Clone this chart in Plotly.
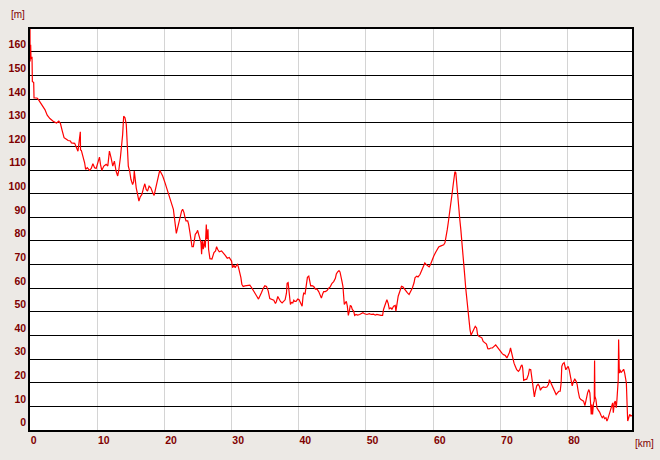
import plotly.graph_objects as go

# distance [km]
km = [0, 0.02, 0.1, 0.15, 0.3, 0.35, 0.55, 0.6, 1.05,
      1.23, 1.72, 2.22, 2.56, 2.96, 3.45, 3.94, 4.29, 4.53, 4.78, 5.07, 5.42, 5.67, 6.01, 6.16, 6.65,
      6.90, 7.14, 7.49, 7.52, 7.64, 7.88, 8.13, 8.28, 8.52, 8.87, 9.11, 9.36, 9.61, 9.85, 10.10, 10.34,
      10.49, 10.69, 10.99, 11.33, 11.58, 11.82, 12.07, 12.32, 12.56, 12.81, 13.05, 13.20, 13.45, 13.65,
      13.79, 13.94, 14.14, 14.33, 14.43, 14.63, 14.83, 15.02, 15.27, 15.42, 15.52, 15.67, 15.81, 16.01,
      16.21, 16.40, 16.65, 16.90, 17.09, 17.29, 17.49, 17.73, 17.98,
      18.27, 18.47, 18.61, 18.86, 19.11, 19.31, 19.50, 19.75, 20.10, 20.35, 20.59, 20.84, 21.09, 21.34,
      21.49, 21.63, 21.78, 21.98, 22.18, 22.38, 22.57, 22.72, 22.92, 23.07, 23.22, 23.47, 23.61, 23.81,
      23.96, 24.11, 24.31, 24.46, 24.60, 24.80, 24.95, 25.10, 25.30, 25.45, 25.54, 25.64, 25.79, 25.94,
      26.09, 26.24, 26.34, 26.49, 26.58, 26.78, 27.08, 27.38, 27.62, 27.77, 27.92, 28.17, 28.51, 28.76,
      29.06, 29.36, 29.65, 30.00, 30.15, 30.35, 30.54, 30.74, 30.89, 31.04, 31.24, 31.39, 31.53, 31.73,
      31.98, 32.23, 32.48, 32.72, 32.97, 33.22, 33.47, 33.71, 34.01, 34.21, 34.46, 34.70, 34.95, 35.20,
      35.45, 35.69, 35.94,
      36.29, 36.53, 36.68, 36.88, 37.08, 37.28, 37.52, 37.77, 37.97, 38.17, 38.27, 38.42, 38.56, 38.76,
      38.91, 39.11, 39.26, 39.41, 39.60, 39.85, 40.05, 40.25, 40.50, 40.64, 40.74, 40.94, 41.14, 41.29,
      41.49, 41.63, 41.78, 41.98, 42.23, 42.48, 42.72, 42.97, 43.22, 43.37, 43.56, 43.71, 43.96, 44.21,
      44.46, 44.70, 44.95, 45.20, 45.45, 45.59, 45.79, 45.99, 46.14, 46.24, 46.44, 46.58, 46.68, 46.78,
      46.93, 47.08, 47.23, 47.38, 47.52, 47.67, 47.82, 47.97, 48.17, 48.32, 48.51, 48.76, 49.06, 49.26,
      49.55, 49.80, 50.15, 50.50, 50.79, 51.14, 51.39, 51.63, 51.93, 52.23, 52.48, 52.62, 52.87, 53.12,
      53.32, 53.47, 53.71, 53.86, 54.11,
      54.36, 54.46, 54.61, 54.80, 55.05, 55.29, 55.49, 55.69, 55.93, 56.18, 56.42, 56.67, 56.91, 57.16,
      57.30, 57.55, 57.75, 58.04, 58.24, 58.43, 58.63, 58.77, 58.97, 59.22, 59.41, 59.61, 59.85, 60.10,
      60.34, 60.59, 60.83, 61.08, 61.32, 61.57, 61.76, 61.91, 62.11, 62.25, 62.40, 62.55, 62.70, 62.84,
      62.99, 63.14, 63.24, 63.38, 63.53, 63.68, 63.82, 63.97, 64.12, 64.26, 64.41, 64.56, 64.71, 64.85,
      65.00, 65.15, 65.34, 65.49, 65.64, 65.83, 66.03, 66.27, 66.47, 66.62, 66.81, 67.06, 67.25, 67.45,
      67.70, 67.94, 68.14, 68.33, 68.58, 68.82, 69.07, 69.31, 69.56, 69.80, 70.05, 70.29, 70.49, 70.74,
      70.98, 71.18, 71.37, 71.52, 71.67, 71.81,
      72.04, 72.24, 72.44, 72.69, 72.89, 73.08, 73.23, 73.33, 73.48, 73.68, 73.93, 74.18, 74.33, 74.53,
      74.68, 74.83, 74.93, 75.07, 75.22, 75.42, 75.62, 75.82, 75.97, 76.17, 76.42, 76.67, 76.92, 77.16,
      77.31, 77.51, 77.71, 77.91, 78.11, 78.31, 78.51, 78.71, 78.91, 79.05, 79.15, 79.30, 79.50, 79.60,
      79.75, 79.90, 80.10, 80.25, 80.40, 80.55, 80.70, 80.90, 81.09, 81.29, 81.44, 81.59, 81.79, 81.99,
      82.19, 82.39, 82.59, 82.79, 82.99, 83.18, 83.33, 83.43, 83.53, 83.63, 83.73, 83.88, 83.98, 84.03,
      84.08, 84.23, 84.38, 84.58, 84.78, 84.98, 85.17, 85.37, 85.52, 85.72, 85.87, 86.02, 86.22, 86.37,
      86.57, 86.72, 86.82, 86.97, 87.11, 87.26, 87.36, 87.46, 87.55, 87.61, 87.71, 87.81, 87.96, 88.16,
      88.36, 88.51, 88.66, 88.76, 88.86, 88.96, 89.11, 89.26, 89.45, 89.6]

# elevation [m]
elev = [170, 156, 163, 157, 158, 147.5, 147, 140.5, 140.5,
        139.9, 138, 135.6, 133.2, 131.8, 130.7, 129.9, 130.7, 129.7, 126.8, 123.7, 123, 122.5, 122.3, 121.5, 121.3,
        119.2, 118, 126.2, 118.5, 118.3, 115.9, 113.1, 110.3, 111, 109.9, 110.7, 112.7, 111, 110.7, 113.1, 115.5,
        112.4, 109.9, 111.7, 112.4, 111.7, 118, 115.2, 111.7, 113.8, 109.6, 107.5, 109.6, 115.2, 120.1,
        125, 132.8, 132.1, 129.3, 120.8, 111.7, 109.6, 106.1, 103.9, 105, 109.6, 105.4, 102.5, 99.7,
        96.9, 98.6, 99.7, 102.5, 104.2, 101.8, 101.1, 103.2, 102.5,
        100.4, 99.3, 101.1, 103.9, 107.7, 109.9, 108.9, 107.5, 104.6, 102.5, 100.4, 98.3, 96.2, 93.4,
        89.9, 86.3, 83.2, 85.6, 88.5, 90.6, 92.7, 93.4, 92.0, 89.9, 88.5, 88.5, 87.0, 83.5,
        79.3, 77.6, 77.6, 80.7, 82.8, 83.5, 84.5, 82.8, 80.7, 79.3, 74.4, 80.0, 76.5, 80.0,
        77.2, 87.0, 80.7, 84.9, 76.5, 72.5, 72.3, 75.1, 75.8, 77.6, 76.5, 75.4, 75.8, 75.1,
        73.9, 72.7, 73.0, 71.5, 68.7, 69.7, 68.7, 69.7, 70.1, 68.7, 66.6, 64.5, 61.7, 60.7,
        61.0, 61.0, 61.0, 61.3, 60.3, 58.9, 57.9, 56.8, 55.4, 56.5, 58.2, 59.9, 61.0, 60.7,
        58.9, 55.6, 55.4,
        54.9, 53.5, 54.4, 56.5, 55.4, 54.4, 53.8, 54.4, 55.1, 57.9, 62.1, 62.4, 57.9, 53.1,
        54.0, 53.8, 54.9, 54.4, 54.4, 55.4, 55.1, 53.8, 52.4, 56.5, 57.9, 57.6, 61.4, 64.6,
        65.1, 62.1, 61.0, 61.1, 60.7, 59.6, 59.6, 58.6, 56.5, 55.8, 57.6, 58.6, 58.6, 59.0,
        60.0, 60.7, 62.1, 62.8, 64.2, 66.0, 66.9, 67.4, 66.9, 64.9, 62.8, 60.7, 57.2, 53.1,
        53.8, 54.4, 52.4, 48.5, 50.3, 52.6, 52.4, 51.0, 50.3, 48.5, 48.9, 48.6, 48.9, 49.2,
        49.6, 49.2, 48.9, 49.2, 48.9, 49.0, 48.6, 48.9, 48.6, 48.5, 48.5, 51.0, 53.1, 55.1,
        53.5, 51.3, 51.7, 51.0, 52.4,
        52.7, 50.3, 54.1, 56.6, 58.7, 60.8, 60.6, 59.7, 58.7, 58.0, 57.3, 58.7, 60.1, 62.3,
        64.4, 65.1, 64.8, 65.8, 67.2, 68.6, 69.6, 70.7, 70.0, 69.6, 69.0, 70.0, 72.1, 73.6,
        75.0, 76.4, 77.5, 77.8, 78.1, 78.4, 79.2, 81.3, 84.9, 87.7, 90.5, 93.3, 96.2, 100.4,
        103.9, 108.2, 109.3, 108.9, 103.2, 99.0, 91.9, 89.1, 84.9, 80.6, 77.1, 69.3, 65.1, 60.1,
        55.2, 50.3, 46.0, 42.5, 40.1, 41.4, 42.2, 43.9, 43.2, 40.4, 39.7, 39.4, 39.0, 37.5,
        36.8, 36.4, 34.4, 34.3, 34.7, 34.7, 35.4, 36.0, 35.1, 34.0, 32.9, 32.3, 31.9, 31.5,
        30.5, 31.5, 32.9, 34.7, 32.6, 30.1,
        28.3, 26.9, 25.5, 24.8, 25.5, 27.1, 27.6, 26.2, 21.0, 21.3, 21.5, 23.4, 25.7, 25.5,
        22.0, 19.2, 15.0, 14.0, 16.4, 18.7, 19.4, 18.5, 16.8, 17.8, 18.2, 18.0, 18.2, 19.2,
        21.3, 20.1, 19.2, 17.8, 16.4, 15.0, 15.7, 16.4, 16.4, 19.9, 26.9, 28.0, 28.5, 27.6,
        25.5, 26.2, 26.9, 25.5, 22.7, 19.9, 18.7, 20.6, 21.5, 20.6, 19.2, 16.4, 13.6, 12.9,
        12.6, 12.2, 10.3, 13.6, 15.7, 17.1, 15.7, 11.5, 6.6, 10.8, 6.6, 11.5, 12.2, 29.4,
        14.3, 12.9, 9.4, 8.4, 7.6, 6.2, 5.2, 5.9, 4.8, 5.2, 3.8, 4.8, 6.6, 9.0,
        10.8, 11.5, 7.3, 11.5, 12.2, 9.4, 12.9, 17.1, 21.3, 38.3, 24.1, 25.5, 24.3, 24.8,
        25.7, 24.1, 20.6, 19.9, 11.5, 3.8, 5.2, 6.6, 5.9, 6.2]

x_ticks = [0, 10, 20, 30, 40, 50, 60, 70, 80]
y_ticks = list(range(0, 170, 10))

tick_color = "#800000"
tick_font = dict(family="Liberation Sans", size=10.5, color=tick_color, weight="bold")

fig = go.Figure()
fig.add_trace(go.Scatter(x=km, y=elev, mode="lines",
                         line=dict(color="#ff0000", width=1.2), hoverinfo="skip"))

fig.update_layout(
    width=660, height=460,
    margin=dict(l=30, r=28, t=29, b=30, autoexpand=False),
    paper_bgcolor="#ece9e5",
    plot_bgcolor="#ffffff",
    showlegend=False,
    xaxis=dict(range=[0, 89.6], tickvals=x_ticks, ticktext=[str(v) for v in x_ticks],
               showgrid=True, gridcolor="#d4d4d4", gridwidth=1, zeroline=False,
               showline=True, linecolor="#000000", linewidth=1.5, mirror=True,
               ticks="", ticklabelposition="outside right", tickfont=tick_font,
               automargin=False),
    yaxis=dict(range=[0, 169.7], tickvals=y_ticks, ticktext=[str(v) for v in y_ticks],
               showgrid=True, gridcolor="#000000", gridwidth=1.2, zeroline=False,
               showline=True, linecolor="#000000", linewidth=1.5, mirror=True,
               ticks="", ticklabelposition="outside top", tickfont=tick_font,
               automargin=False),
    annotations=[
        dict(text="[m]", xref="paper", yref="paper", x=-0.02, y=1.036, showarrow=False,
             xanchor="center", yanchor="middle",
             font=dict(family="Liberation Sans", size=10, color=tick_color)),
        dict(text="[km]", xref="paper", yref="paper", x=1.0204, y=-0.034, showarrow=False,
             xanchor="center", yanchor="middle",
             font=dict(family="Liberation Sans", size=10, color=tick_color)),
    ],
)

fig.write_html("out.html", config={"displayModeBar": False},
               post_script="document.body.style.margin='0';document.body.style.background='#ece9e5';")
